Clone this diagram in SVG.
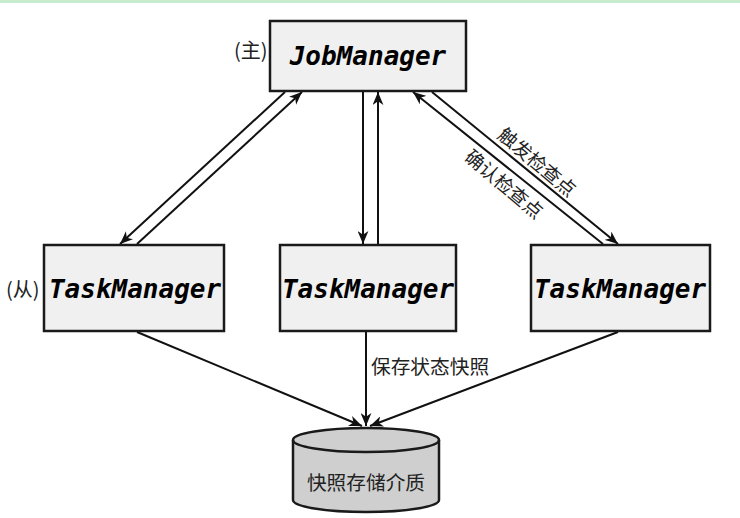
<svg xmlns="http://www.w3.org/2000/svg" width="740" height="518" viewBox="0 0 740 518">
<defs>
<style>
.box{fill:#f0f0f0;stroke:#1a1a1a;stroke-width:2.5}
.mono{font-family:"DejaVu Sans Mono","Liberation Mono",monospace;font-weight:bold;font-style:italic;font-size:26px;fill:#000;text-anchor:middle}
.cjk{font-family:"Noto Sans CJK SC","Noto Sans",sans-serif;font-size:19px;fill:#222}
.ln{stroke:#111;stroke-width:2;fill:none;marker-end:url(#a)}
</style>
<marker id="a" viewBox="0 0 12 10" refX="12" refY="5" markerWidth="13" markerHeight="11" orient="auto" markerUnits="userSpaceOnUse">
<path d="M0,0 L12,5 L0,10 L3.5,5 Z" fill="#111"/>
</marker>
</defs>
<rect x="0" y="0" width="740" height="3" fill="#c6ebcd"/>
<g id="connectors">
<line class="ln" x1="285" y1="92" x2="120" y2="244"/>
<line class="ln" x1="137" y1="244" x2="302" y2="92"/>
<line class="ln" x1="363" y1="92" x2="363" y2="244"/>
<line class="ln" x1="378" y1="244" x2="378" y2="92"/>
<line class="ln" x1="603" y1="244" x2="413" y2="92"/>
<line class="ln" x1="432" y1="92" x2="618" y2="244"/>
<line class="ln" x1="137" y1="332" x2="362" y2="426"/>
<line class="ln" x1="366" y1="332" x2="366" y2="426"/>
<line class="ln" x1="618" y1="332" x2="370" y2="426"/>
<text class="cjk" transform="translate(538,161) rotate(40)" text-anchor="middle" dominant-baseline="central">触发检查点</text>
<text class="cjk" transform="translate(505,183) rotate(40)" text-anchor="middle" dominant-baseline="central">确认检查点</text>
<text class="cjk" x="371" y="374" style="font-size:19.7px">保存状态快照</text>
</g>
<g id="jobmanager">
<rect class="box" x="270" y="21" width="196" height="70"/>
<text class="mono" x="368" y="65">JobManager</text>
<text class="cjk" x="234" y="58" style="font-size:20px">(主)</text>
</g>
<g id="tm1">
<rect class="box" x="44" y="245" width="180" height="86"/>
<text class="mono" x="135" y="298">TaskManager</text>
<text class="cjk" x="6" y="297" style="font-size:20px">(从)</text>
</g>
<g id="tm2">
<rect class="box" x="280" y="245" width="176" height="86"/>
<text class="mono" x="368" y="298">TaskManager</text>
</g>
<g id="tm3">
<rect class="box" x="531" y="245" width="179" height="86"/>
<text class="mono" x="620" y="298">TaskManager</text>
</g>
<g id="storage">
<path d="M293,440 A73,12 0 0 1 439,440 L439,500 A73,12 0 0 1 293,500 Z" fill="#cfcfcf" stroke="#1a1a1a" stroke-width="2.5"/>
<path d="M293,440 A73,12 0 0 0 439,440" fill="none" stroke="#1a1a1a" stroke-width="2.5"/>
<text class="cjk" x="366" y="490" text-anchor="middle" style="font-size:19.7px">快照存储介质</text>
</g>
</svg>
